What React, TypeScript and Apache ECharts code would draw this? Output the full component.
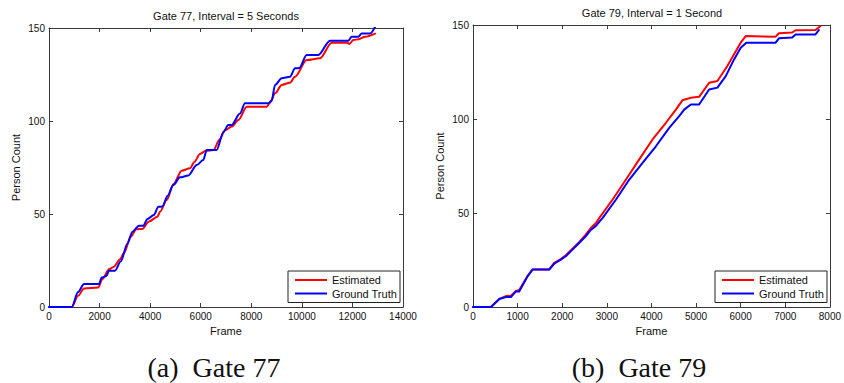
import React, { useEffect, useRef } from "react";
import * as echarts from "echarts";

// ---------- Data ----------
const g77XTicks = [0, 2000, 4000, 6000, 8000, 10000, 12000, 14000];
const g79XTicks = [0, 1000, 2000, 3000, 4000, 5000, 6000, 7000, 8000];
const yTicks = [0, 50, 100, 150];

// Gate 77 – Estimated
const g77EstFrames = [0, 900, 1150, 1384, 1950, 2110, 2373, 2570, 2800, 2966, 3230, 3454, 3690, 3955, 4285, 4390, 4655, 4917, 5248, 5577, 5750, 5970, 6200, 6500, 6750, 6960, 7225, 7490, 7818, 8610, 8740, 8950, 9200, 9530, 9730, 10190, 10717, 11180, 11800, 11880, 12036, 12250, 12500, 12893];
const g77EstCounts = [0, 0, 6, 10, 10.5, 15, 20.3, 21.7, 25.5, 29, 37.8, 41.8, 42, 46, 48.5, 51.2, 57.5, 66, 73.3, 74.6, 78, 82.3, 84, 84.4, 90, 95, 97, 100.5, 107.7, 107.7, 109.8, 115, 119.4, 120.6, 123.8, 132.8, 133.7, 142.1, 142.1, 141.4, 143.5, 144, 145.3, 147];

// Gate 77 – Ground Truth
const g77GtFrames = [0, 900, 1150, 1384, 1978, 2083, 2268, 2373, 2610, 2834, 3100, 3300, 3560, 3730, 3890, 4150, 4323, 4480, 4700, 4917, 5180, 5510, 5840, 6100, 6237, 6630, 6895, 7090, 7220, 7554, 7750, 8675, 8807, 8940, 9200, 9530, 9730, 9900, 10190, 10650, 11113, 11840, 11970, 12234, 12367, 12695, 12893];
const g77GtCounts = [0, 0, 8, 12.4, 12.4, 15.8, 16.6, 19.5, 19.5, 24.4, 34, 40.5, 43.7, 43.7, 47.3, 49.5, 53.9, 54, 60, 65.6, 69.7, 70.7, 76.3, 79, 84.4, 84.4, 94, 97.8, 97.8, 104, 109.5, 109.5, 111, 119.4, 123, 123.8, 128.3, 128.5, 135.5, 135.5, 143.2, 143.2, 145.3, 145.3, 147, 147, 150.5];

// Gate 79 – Estimated
const g79EstFrames = [0, 403, 590, 738, 850, 961, 1036, 1223, 1335, 1708, 1820, 1968, 2080, 2230, 2379, 2527, 2640, 2750, 2833, 3131, 3430, 3727, 4025, 4324, 4548, 4697, 4883, 5069, 5293, 5479, 5702, 5852, 6001, 6113, 6784, 6858, 7155, 7231, 7678, 7790];
const g79EstCounts = [0, 0, 4.3, 5.8, 6, 8.5, 9, 16.5, 20, 20, 23.5, 25.5, 27.5, 31, 34.5, 38.5, 42, 44.5, 47.4, 57.2, 67.8, 78.5, 89.1, 98, 105, 110, 111.3, 111.8, 119.3, 120.2, 128.2, 134.4, 140.6, 144.1, 143.8, 145.6, 146, 147.2, 147.3, 149.5];

// Gate 79 – Ground Truth
const g79GtFrames = [0, 403, 590, 738, 850, 961, 1036, 1223, 1335, 1708, 1820, 1968, 2080, 2230, 2379, 2527, 2640, 2750, 2907, 3206, 3504, 3801, 4100, 4398, 4622, 4734, 4883, 5069, 5293, 5479, 5666, 5852, 6001, 6127, 6784, 6858, 7155, 7231, 7678, 7752];
const g79GtCounts = [0, 0, 4.3, 5.3, 5.3, 8.3, 8.3, 16.3, 19.9, 19.9, 23, 25.2, 27, 30.5, 34, 37.6, 41, 43, 47.4, 57.2, 67.8, 76.7, 85.5, 95.3, 101.5, 105, 107.7, 107.7, 115.7, 116.7, 122.8, 131.7, 137.9, 140.6, 140.6, 142.9, 143.3, 145, 145, 147.3];

const seriesNames = ["Estimated", "Ground Truth"];
const titles = ["Gate 77, Interval = 5 Seconds", "Gate 79, Interval = 1 Second"];
const captions = ["(a)  Gate 77", "(b)  Gate 79"];

// ---------- Helpers ----------
const zip = (xs: number[], ys: number[]) => xs.map((x, i) => [x, ys[i]]);
const SANS = "'Liberation Sans', Arial, sans-serif";
const AXIS_COLOR = "#3a3a3a";
const plain = (v: number) => String(v);

function xAxes(gridIndex: number, ticks: number[]) {
  const min = ticks[0];
  const max = ticks[ticks.length - 1];
  const interval = ticks[1] - ticks[0];
  const base = {
    type: "value",
    gridIndex,
    min,
    max,
    interval,
    splitLine: { show: false },
    axisLine: { show: true, onZero: false, lineStyle: { color: AXIS_COLOR, width: 1 } },
    axisTick: { show: true, inside: true, length: 4, lineStyle: { color: AXIS_COLOR } },
  };
  return [
    {
      ...base,
      position: "bottom",
      axisLabel: { show: true, fontSize: 10, color: "#111", margin: 4, fontFamily: SANS, formatter: plain },
      name: "Frame",
      nameLocation: "middle",
      nameGap: 16,
      nameTextStyle: { fontSize: 11, color: "#111", fontFamily: SANS },
    },
    { ...base, position: "top", axisLabel: { show: false } },
  ];
}

function yAxes(gridIndex: number, nameGap: number) {
  const base = {
    type: "value",
    gridIndex,
    min: yTicks[0],
    max: yTicks[yTicks.length - 1],
    interval: yTicks[1] - yTicks[0],
    splitLine: { show: false },
    axisLine: { show: true, onZero: false, lineStyle: { color: AXIS_COLOR, width: 1 } },
    axisTick: { show: true, inside: true, length: 4, lineStyle: { color: AXIS_COLOR } },
  };
  return [
    {
      ...base,
      position: "left",
      axisLabel: { show: true, fontSize: 10, color: "#111", margin: 4, fontFamily: SANS, formatter: plain },
      name: "Person Count",
      nameLocation: "middle",
      nameGap,
      nameTextStyle: { fontSize: 11, color: "#111", fontFamily: SANS },
    },
    { ...base, position: "right", axisLabel: { show: false } },
  ];
}

function lineSeries(name: string, color: string, xi: number, yi: number, data: number[][], smooth: number | boolean) {
  return {
    type: "line",
    name,
    xAxisIndex: xi,
    yAxisIndex: yi,
    data,
    symbol: "none",
    showSymbol: false,
    smooth,
    smoothMonotone: "x",
    lineStyle: { color, width: 2, join: "round", cap: "round" },
    itemStyle: { color },
    z: 3,
  };
}

function legend(left: number, top: number) {
  return {
    data: seriesNames.map((name) => ({ name, icon: "rect" })),
    orient: "vertical",
    left,
    top,
    padding: [3, 3, 3, 7],
    itemWidth: 32,
    itemHeight: 2,
    itemGap: 1.5,
    backgroundColor: "#fff",
    borderColor: "#222",
    borderWidth: 1,
    borderRadius: 0,
    selectedMode: false,
    textStyle: { fontSize: 11, color: "#111", fontFamily: SANS, lineHeight: 12 },
  };
}

export default function App() {
  const ref = useRef<HTMLDivElement>(null);

  useEffect(() => {
    document.body.style.margin = "0";
    if (!ref.current) return;
    const chart = echarts.init(ref.current, undefined, { renderer: "svg" });

    const option = {
      animation: false,
      backgroundColor: "#fff",
      grid: [
        { left: 49, top: 28, width: 354, height: 279, containLabel: false },
        { left: 473, top: 25, width: 358, height: 282, containLabel: false },
      ],
      xAxis: [...xAxes(0, g77XTicks), ...xAxes(1, g79XTicks)],
      yAxis: [...yAxes(0, 28), ...yAxes(1, 28)],
      legend: [legend(288, 271), legend(715, 271)],
      series: [
        lineSeries(seriesNames[0], "#ff0000", 0, 0, zip(g77EstFrames, g77EstCounts), 0.3),
        lineSeries(seriesNames[1], "#0000ff", 0, 0, zip(g77GtFrames, g77GtCounts), 0.3),
        lineSeries(seriesNames[0], "#ff0000", 2, 2, zip(g79EstFrames, g79EstCounts), false),
        lineSeries(seriesNames[1], "#0000ff", 2, 2, zip(g79GtFrames, g79GtCounts), false),
      ],
      graphic: [
        {
          type: "text",
          x: 226,
          y: 16,
          style: { text: titles[0], fontSize: 11, fontFamily: SANS, fill: "#111", align: "center", verticalAlign: "middle" },
        },
        {
          type: "text",
          x: 652,
          y: 13,
          style: { text: titles[1], fontSize: 11, fontFamily: SANS, fill: "#111", align: "center", verticalAlign: "middle" },
        },
        {
          type: "text",
          x: 214,
          y: 367,
          style: { text: captions[0], fontSize: 28, fontFamily: "'Liberation Serif', 'DejaVu Serif', serif", fill: "#111", align: "center", verticalAlign: "middle" },
        },
        {
          type: "text",
          x: 639,
          y: 367,
          style: { text: captions[1], fontSize: 28, fontFamily: "'Liberation Serif', 'DejaVu Serif', serif", fill: "#111", align: "center", verticalAlign: "middle" },
        },
      ],
    };

    chart.setOption(option as any);
    return () => chart.dispose();
  }, []);

  return (
    <div
      ref={ref}
      style={{ position: "fixed", left: 0, top: 0, width: 844, height: 383, background: "#fff" }}
    />
  );
}
